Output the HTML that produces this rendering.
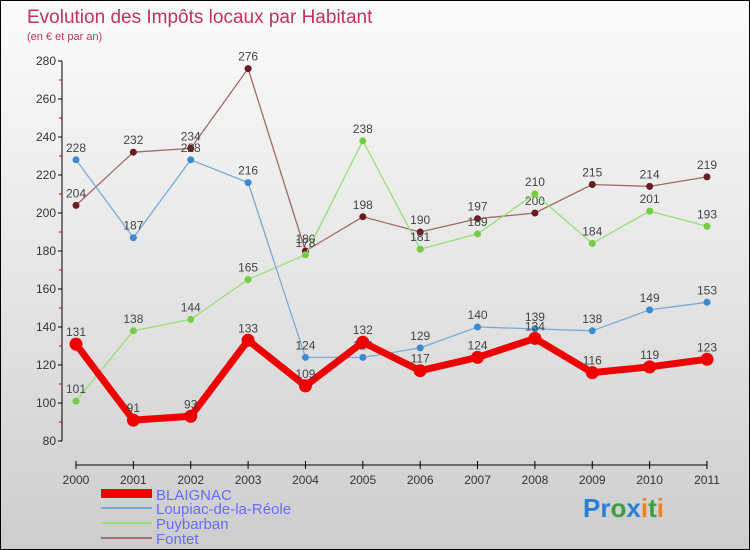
<!DOCTYPE html>
<html><head><meta charset="utf-8"><style>
body{margin:0;}
#c{width:748px;height:548px;border:1px solid #000;background:linear-gradient(#fbfbfb,#e6e6e6 50%,#cdcdcd);position:relative;font-family:"Liberation Sans",sans-serif;overflow:hidden}
svg text{font-family:"Liberation Sans",sans-serif}
</style></head><body>
<div id="c">
<svg id="s" width="748" height="548">
<text x="26" y="22" font-size="19" fill="#c0335f">Evolution des Impôts locaux par Habitant</text>
<text x="26" y="39" font-size="11" fill="#c0335f">(en € et par an)</text>
<g id="axes"></g><g id="series"></g>
<g>
<rect x="100" y="488" width="51" height="9" fill="#e00"/>
<text x="155" y="499" font-size="15" fill="#6a6aff">BLAIGNAC</text>
<line x1="100" y1="507" x2="151" y2="507" stroke="#7aa9d6" stroke-width="2"/>
<text x="155" y="513" font-size="15" fill="#6a6aff">Loupiac-de-la-Réole</text>
<line x1="100" y1="522" x2="151" y2="522" stroke="#99dd77" stroke-width="2"/>
<text x="155" y="528" font-size="15" fill="#6a6aff">Puybarban</text>
<line x1="100" y1="537" x2="151" y2="537" stroke="#a07070" stroke-width="2"/>
<text x="155" y="543" font-size="15" fill="#6a6aff">Fontet</text>
</g>
<text x="582" y="516" font-size="26" font-weight="bold"><tspan fill="#2a7fd4">Pr</tspan><tspan fill="#3aa040">o</tspan><tspan fill="#2a7fd4">x</tspan><tspan fill="#f08020">i</tspan><tspan fill="#3aa040">t</tspan><tspan fill="#f08020">i</tspan></text>
</svg></div>
<script>
const years=[2000,2001,2002,2003,2004,2005,2006,2007,2008,2009,2010,2011];
const blaignac=[131,91,93,133,109,132,117,124,134,116,119,123];
const loupiac=[228,187,228,216,124,124,129,140,139,138,149,153];
const puybarban=[101,138,144,165,178,238,181,189,210,184,201,193];
const fontet=[204,232,234,276,180,198,190,197,200,215,214,219];
const yTicks=[80,100,120,140,160,180,200,220,240,260,280];
const NS="http://www.w3.org/2000/svg";
const x=i=>75+i*(706-75)/11;
const y=v=>440-(v-80)*1.9;
function mk(t,a,p){const e=document.createElementNS(NS,t);for(const k in a)e.setAttribute(k,a[k]);p.appendChild(e);return e;}
const ax=document.getElementById('axes');
let l=mk('line',{x1:61,y1:y(280),x2:61,y2:y(80),stroke:'#000'},ax);


yTicks.forEach((v,i)=>{
 const t=mk('line',{x1:57,y1:y(v),x2:61,y2:y(v),stroke:'#000'},ax);
 
 
 if(i<yTicks.length-1){const m=mk('line',{x1:58,y1:y(v+10),x2:61,y2:y(v+10),stroke:'#c00'},ax);
 
 }
 const tx=mk('text',{x:55,y:y(v)+4,'font-size':12,fill:'#333','text-anchor':'end'},ax);tx.textContent=v;
 
 
});
l=mk('line',{x1:75,y1:464,x2:706,y2:464,stroke:'#000'},ax);


years.forEach((yr,i)=>{
 const t=mk('line',{x1:x(i),y1:460,x2:x(i),y2:468,stroke:'#000'},ax);
 
 
 const tx=mk('text',{x:x(i),y:483,'font-size':12,fill:'#333','text-anchor':'middle'},ax);tx.textContent=yr;
 
 
});
const sg=document.getElementById('series');
function series(name,data,color,dot,w,r){
 const g=mk('g',{},sg);
 
 
 const p=mk('polyline',{points:data.map((v,i)=>x(i)+','+y(v)).join(' '),fill:'none',stroke:color,'stroke-width':w,'stroke-linejoin':'round'},g);
 
 
 data.forEach((v,i)=>{
  const c=mk('circle',{cx:x(i),cy:y(v),r:r,fill:dot},g);
  
  
  const t=mk('text',{x:x(i),y:y(v)-8,'font-size':12,fill:'#444','text-anchor':'middle'},g);t.textContent=v;
  
  
 });
}
series('fontet',fontet,'#a06a6a','#6b1a22',1.3,3.5);
series('puybarban',puybarban,'#99dd77','#77cc44',1.3,3.5);
series('loupiac',loupiac,'#7aa9d6','#3d8ad0',1.3,3.5);
series('blaignac',blaignac,'#ee0000','#ee0000',7,6.5);
</script>
</body></html>
